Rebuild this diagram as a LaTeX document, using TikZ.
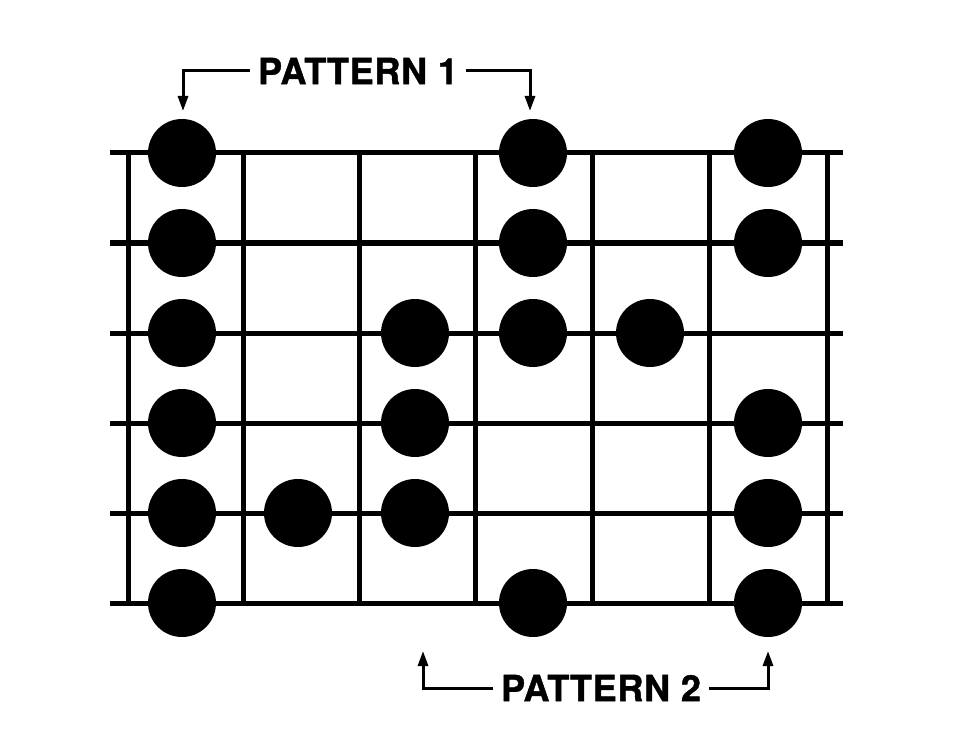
\documentclass[tikz,border=0pt]{standalone}
\usepackage{fontspec}
\setmainfont{TeX Gyre Heros}
\usetikzlibrary{arrows.meta}

\begin{document}
\begin{tikzpicture}[x=1pt,y=-1pt,
  dot/.style={circle,fill=black,minimum size=68pt,inner sep=0pt},
  label/.style={font=\fontsize{36}{36}\selectfont\bfseries\addfontfeature{LetterSpace=2,FakeBold=1.2},inner sep=8pt},
  bar/.style={line width=5pt},
  pointer/.style={line width=3pt,-{Triangle[length=15pt,width=10pt]}}]
\useasboundingbox (0,0) rectangle (960,743);

% strings
\draw[bar] (110,153) -- (843,153);
\draw[bar] (110,243) -- (843,243);
\draw[bar] (110,333) -- (843,333);
\draw[bar] (110,423) -- (843,423);
\draw[bar] (110,513) -- (843,513);
\draw[bar] (110,603) -- (843,603);
% frets
\draw[bar] (128,153) -- (128,603);
\draw[bar] (243,153) -- (243,603);
\draw[bar] (359,153) -- (359,603);
\draw[bar] (475,153) -- (475,603);
\draw[bar] (592,153) -- (592,603);
\draw[bar] (709,153) -- (709,603);
\draw[bar] (827,153) -- (827,603);

\node[dot] (A1) at (182,153) {};
\node[dot] (A2) at (182,243) {};
\node[dot] (A3) at (182,333) {};
\node[dot] (A4) at (182,423) {};
\node[dot] (A5) at (182,513) {};
\node[dot] (A6) at (182,603) {};
\node[dot] (B5) at (298,513) {};
\node[dot] (C3) at (415,333) {};
\node[dot] (C4) at (415,423) {};
\node[dot] (C5) at (415,513) {};
\node[dot] (D1) at (533,153) {};
\node[dot] (D2) at (533,243) {};
\node[dot] (D3) at (533,333) {};
\node[dot] (D6) at (533,603) {};
\node[dot] (E3) at (650,333) {};
\node[dot] (F1) at (768,153) {};
\node[dot] (F2) at (768,243) {};
\node[dot] (F4) at (768,423) {};
\node[dot] (F5) at (768,513) {};
\node[dot] (F6) at (768,603) {};

\node[label] (P1) at (358,71) {PATTERN 1};
\node[label] (P2) at (601,688) {PATTERN 2};
\coordinate (P1L) at (183,111);
\coordinate (P1R) at (530,111);
\coordinate (P2L) at (423,651);
\coordinate (P2R) at (768,651);

\draw[pointer] (P1.west) -| (P1L);
\draw[pointer] (P1.east) -| (P1R);
\draw[pointer] (P2.west) -| (P2L);
\draw[pointer] (P2.east) -| (P2R);

\end{tikzpicture}
\end{document}
